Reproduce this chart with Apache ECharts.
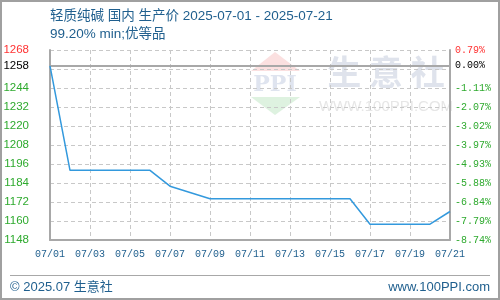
<!DOCTYPE html>
<html>
<head>
<meta charset="utf-8">
<script src="https://cdn.jsdelivr.net/npm/echarts@6/dist/echarts.min.js"></script>
<style>
html,body{margin:0;padding:0;background:#fff;}
#c{width:500px;height:300px;}
</style>
</head>
<body>
<div id="c"></div>
<script>
// ---- data ----
var dates = ['07/01','07/02','07/03','07/04','07/05','07/06','07/07','07/08','07/09','07/10','07/11','07/12','07/13','07/14','07/15','07/16','07/17','07/18','07/19','07/20','07/21'];
var prices = [1258,1192,1192,1192,1192,1192,1182,1178,1174,1174,1174,1174,1174,1174,1174,1174,1158,1158,1158,1158,1166];
var baseValue = 1258;
var yTickValues = [1148,1160,1172,1184,1196,1208,1220,1232,1244,1258,1268];
var yMin = 1148, yMax = 1268;
var titleText = '轻质纯碱 国内 生产价 2025-07-01 - 2025-07-21';
var subTitleText = '99.20% min;优等品';
var footerLeft = '© 2025.07 生意社';
var footerRight = 'www.100PPI.com';

var blueText = '#1f5f8e';
var green = '#2eaa2e', red = '#ff3333';
var gridGrey = '#c8c8c8', axisGrey = '#a8a8a8';
var cjk = '"Liberation Sans","Noto Sans CJK SC",sans-serif';

function labelColor(v){
  v = Number(v);
  if (v > baseValue) return red;
  if (v === baseValue) return '#000';
  return green;
}
function pct(v){
  return ((Number(v) - baseValue) / baseValue * 100).toFixed(2) + '%';
}

var chart = echarts.init(document.getElementById('c'), null, {renderer:'canvas'});
chart.setOption({
  animation:false,
  backgroundColor:'#fff',
  grid:{left:50,right:50,top:50,bottom:60,containLabel:false},
  xAxis:{
    type:'category', data:dates, boundaryGap:false,
    axisLine:{show:true,lineStyle:{color:axisGrey,width:2}},
    axisTick:{show:false},
    axisLabel:{interval:1,color:blueText,fontSize:10,fontFamily:'"Liberation Mono",monospace',margin:9},
    splitLine:{show:true,interval:1,lineStyle:{color:gridGrey,type:[4,3],width:1}}
  },
  yAxis:[
    {
      type:'value', position:'left', min:yMin, max:yMax,
      axisLine:{show:true,lineStyle:{color:axisGrey,width:2}},
      axisTick:{show:false},
      splitLine:{show:false},
      axisLabel:{customValues:yTickValues,formatter:function(v){return String(v);},color:function(v){return labelColor(v);},fontSize:11.5,fontFamily:'"Liberation Sans",sans-serif',margin:21}
    },
    {
      type:'value', position:'right', min:yMin, max:yMax,
      axisLine:{show:true,lineStyle:{color:axisGrey,width:2}},
      axisTick:{show:false},
      splitLine:{show:false},
      axisLabel:{customValues:yTickValues,formatter:function(v){return pct(v);},color:function(v){return labelColor(v);},fontSize:10,fontFamily:'"Liberation Mono",monospace',margin:5}
    },
    {
      type:'value', position:'left', min:0, max:10, interval:1,
      axisLine:{show:false}, axisTick:{show:false}, axisLabel:{show:false},
      splitLine:{show:true,lineStyle:{color:gridGrey,type:[4,3],width:1}}
    }
  ],
  graphic:[
    {type:'rect',shape:{x:1,y:1,width:498,height:298},style:{fill:'none',stroke:'#a0a0a0',lineWidth:2},z:100},
    {type:'text',x:50,y:16,style:{text:titleText,fill:blueText,font:'13.5px '+cjk,textVerticalAlign:'middle'},z:100},
    {type:'text',x:50,y:34,style:{text:subTitleText,fill:blueText,font:'13.5px '+cjk,textVerticalAlign:'middle'},z:100},
    {type:'line',shape:{x1:10,y1:275.5,x2:490,y2:275.5},style:{stroke:'#a8a8a8',lineWidth:1},z:100},
    {type:'text',x:10,y:287,style:{text:footerLeft,fill:blueText,font:'13px '+cjk,textVerticalAlign:'middle'},z:100},
    {type:'text',x:490,y:287,style:{text:footerRight,fill:blueText,font:'13px '+cjk,textAlign:'right',textVerticalAlign:'middle'},z:100},
    // watermark
    {type:'polygon',shape:{points:[[275,52],[300,71],[251,71]]},style:{fill:'#fbe0e0'},z:0},
    {type:'text',x:275,y:85,style:{text:'PPI',fill:'#dfe4ef',font:'bold 22px "DejaVu Serif",serif',textAlign:'center',textVerticalAlign:'middle'},z:0},
    {type:'polygon',shape:{points:[[251,97],[300,97],[275,115]]},style:{fill:'#def2e0'},z:0},
    {type:'text',x:386,y:72,style:{text:'生 意 社',fill:'#dfe3ec',font:'bold 34px "Noto Sans CJK SC",sans-serif',textAlign:'center',textVerticalAlign:'middle'},z:0},
    {type:'text',x:386,y:107,style:{text:'WWW.100PPI.COM',fill:'#e6e6e6',font:'15px "Liberation Sans",sans-serif',textAlign:'center',textVerticalAlign:'middle'},z:0}
  ],
  series:[{
    type:'line', data:prices, yAxisIndex:0, symbol:'none', smooth:false,
    lineStyle:{color:'#3399dd',width:1.5},
    itemStyle:{color:'#3399dd'},
    z:10,
    markLine:{
      silent:true, symbol:['none','none'], label:{show:false},
      lineStyle:{color:axisGrey,type:'solid',width:2},
      data:[{yAxis:baseValue}]
    }
  }]
});
</script>
</body>
</html>
